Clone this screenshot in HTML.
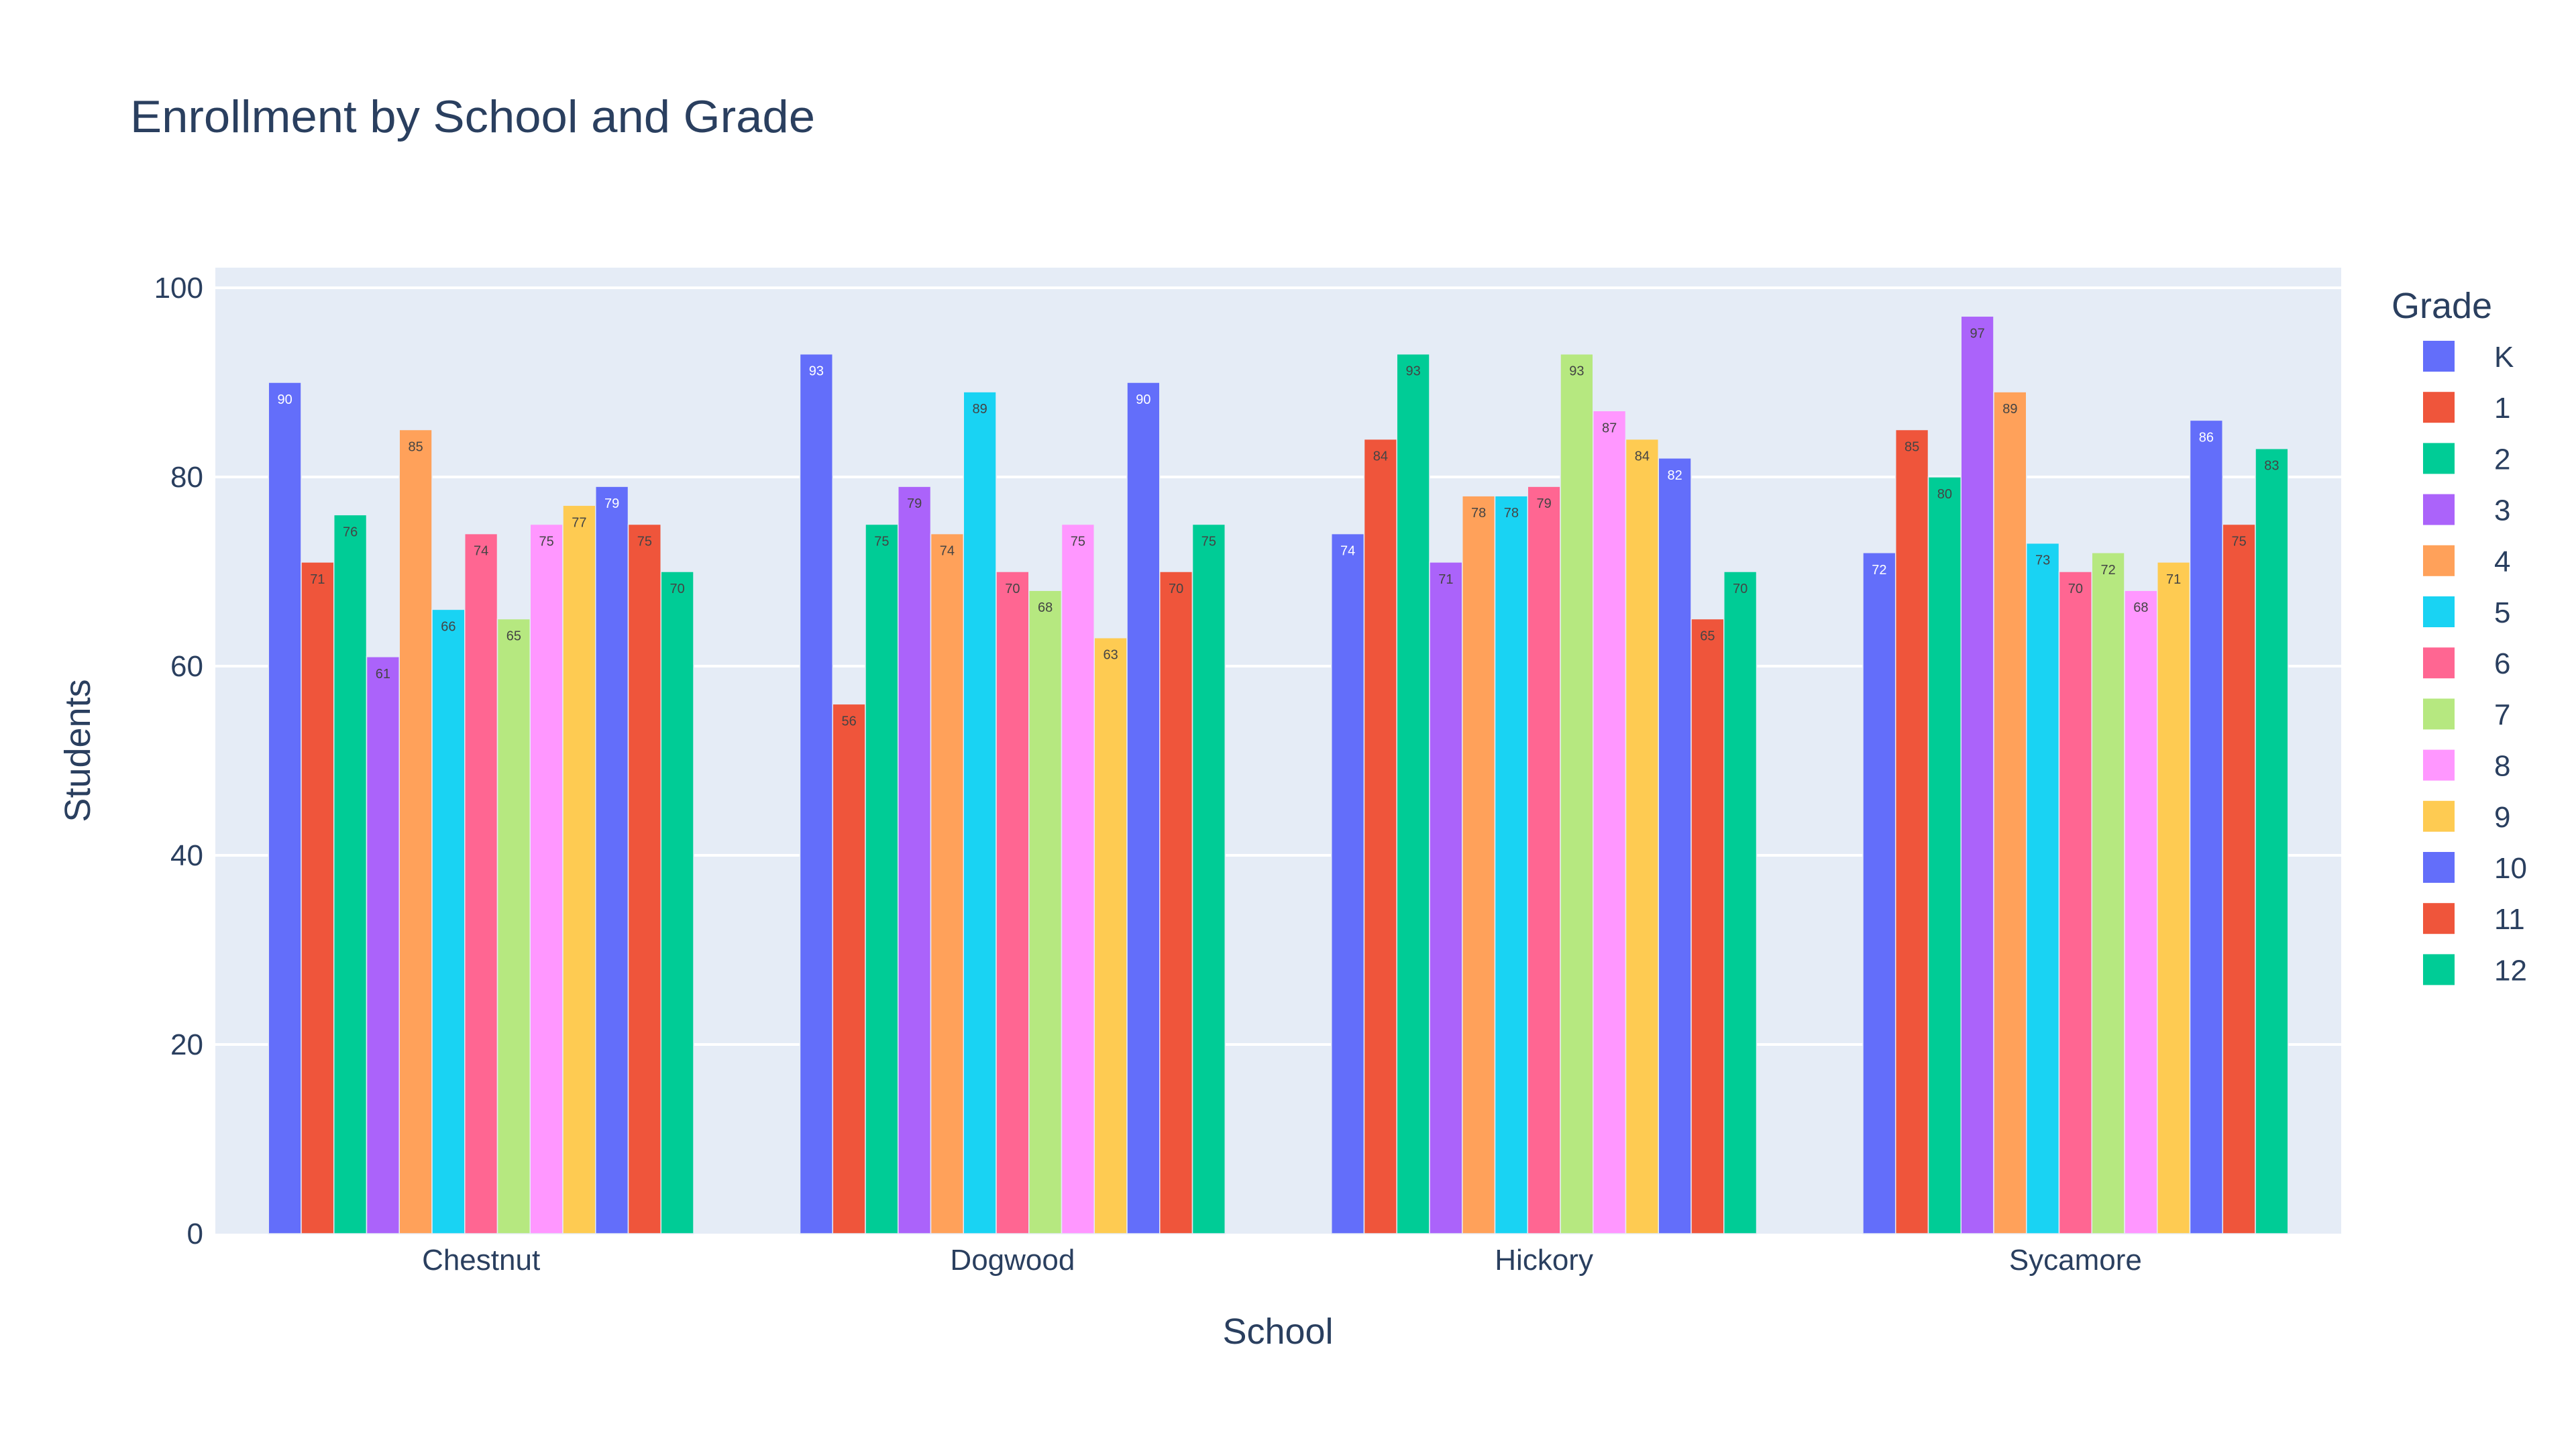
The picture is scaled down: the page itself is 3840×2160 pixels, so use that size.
<!DOCTYPE html>
<html><head><meta charset="utf-8">
<style>
html,body{margin:0;padding:0;background:#fff;}
svg{display:block;font-family:"Liberation Sans",sans-serif;}
</style></head>
<body>
<svg id="chart" width="3840" height="2160" viewBox="0 0 3840 2160" xmlns="http://www.w3.org/2000/svg">
<rect x="0" y="0" width="3840" height="2160" fill="#fff"/>
<text x="194" y="197" font-size="68" fill="#2a3f5f" textLength="1021" lengthAdjust="spacingAndGlyphs">Enrollment by School and Grade</text>
<rect x="321" y="399" width="3169" height="1440" fill="#E5ECF6"/>
<g id="grid"></g>
<g id="bars"></g>
<g id="yticks"></g>
<g id="xticks"></g>
<text x="1905" y="2003" font-size="54" fill="#2a3f5f" text-anchor="middle">School</text>
<text x="0" y="0" font-size="54" fill="#2a3f5f" text-anchor="middle" transform="translate(134,1119) rotate(-90)">Students</text>
<g id="legend">
<text x="3565" y="474" font-size="54" fill="#2a3f5f">Grade</text>
</g>
</svg>
<script>
const schools = ["Chestnut","Dogwood","Hickory","Sycamore"];
const grades = ["K","1","2","3","4","5","6","7","8","9","10","11","12"];
const valuesChestnut = [90,71,76,61,85,66,74,65,75,77,79,75,70];
const valuesDogwood = [93,56,75,79,74,89,70,68,75,63,90,70,75];
const valuesHickory = [74,84,93,71,78,78,79,93,87,84,82,65,70];
const valuesSycamore = [72,85,80,97,89,73,70,72,68,71,86,75,83];
const yTicks = [0,20,40,60,80,100];

const values = [valuesChestnut, valuesDogwood, valuesHickory, valuesSycamore];
const colors = ["#636efa","#EF553B","#00cc96","#ab63fa","#FFA15A","#19d3f3","#FF6692","#B6E880","#FF97FF","#FECB52","#636efa","#EF553B","#00cc96"];
const NS = "http://www.w3.org/2000/svg";
const X0 = 321, X1 = 3490, Y0 = 1839, Y100 = 429;
function y(v){ return Y0 - (v/100)*(Y0-Y100); }
const catW = (X1-X0)/schools.length;
const groupW = catW*0.8;
const barW = groupW/grades.length;
function xBar(si, gi){ return X0 + si*catW + catW*0.1 + gi*barW; }
function mk(tag, attrs, parent){ const e=document.createElementNS(NS,tag); for(const k in attrs) e.setAttribute(k,attrs[k]); parent.appendChild(e); return e; }

const grid = document.getElementById('grid');
const yt = document.getElementById('yticks');
yTicks.forEach(t=>{
  if(t>0){
    const l = mk('line',{x1:X0,x2:X1,y1:y(t),y2:y(t),stroke:'#fff','stroke-width':4},grid);
    
    
  }
  const tx = mk('text',{x:303,y:y(t)+15,'font-size':44,fill:'#2a3f5f','text-anchor':'end'},yt);
  tx.textContent = t;
  
  
});
const xt = document.getElementById('xticks');
schools.forEach((s,si)=>{
  const tx = mk('text',{x:X0+si*catW+catW/2,y:1893,'font-size':44,fill:'#2a3f5f','text-anchor':'middle'},xt);
  tx.textContent = s;
  
  
});
const bars = document.getElementById('bars');
values.forEach((arr,si)=>{
  arr.forEach((v,gi)=>{
    const bx = xBar(si,gi), by = y(v);
    const r = mk('rect',{x:bx,y:by,width:barW,height:Y0-by,fill:colors[gi],stroke:'#E5ECF6','stroke-width':1.5},bars);
    
    
    const dark = (colors[gi]==="#636efa");
    const t = mk('text',{x:bx+barW/2,y:by+32,'font-size':20,fill:dark?'#fff':'#444','text-anchor':'middle'},bars);
    t.textContent = v;
    
    
  });
});
const lg = document.getElementById('legend');
grades.forEach((g,gi)=>{
  const cy = 531 + gi*76.2;
  const r = mk('rect',{x:3612,y:cy-23,width:47,height:46,fill:colors[gi]},lg);
  
  
  const t = mk('text',{x:3718,y:cy+16,'font-size':44,fill:'#2a3f5f'},lg);
  t.textContent = g;
  
  
});
</script>
</body></html>
